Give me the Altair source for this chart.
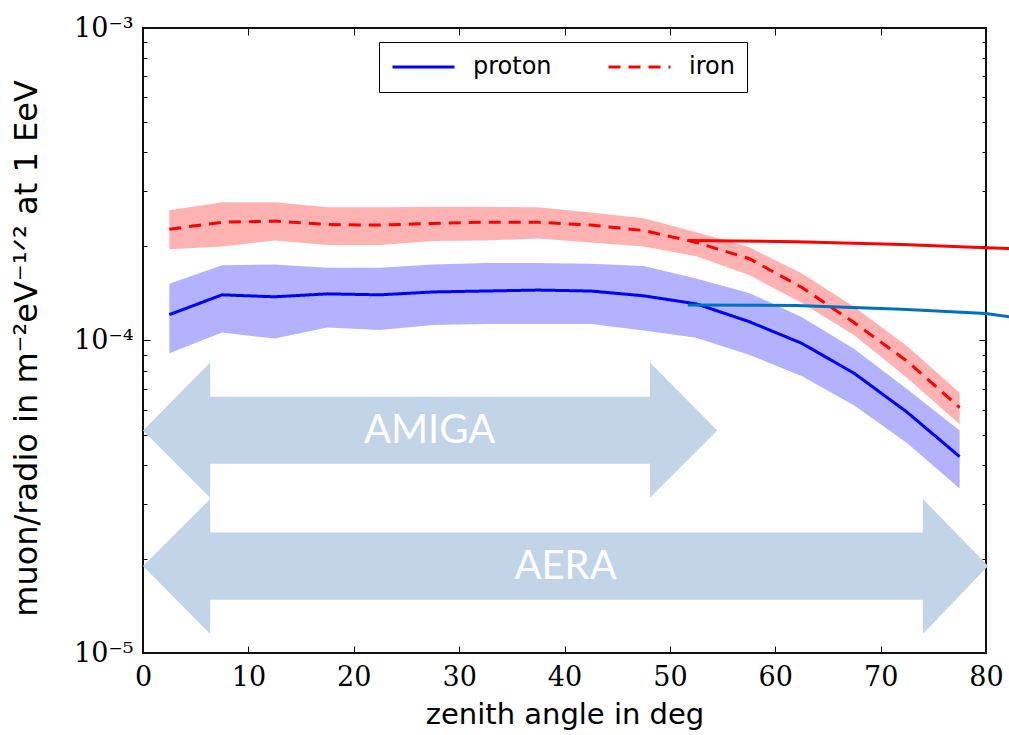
import altair as alt
import pandas as pd

# ---------------- data ----------------
zenith = [2.5, 7.5, 12.5, 17.5, 22.5, 27.5, 32.5, 37.5, 42.5, 47.5,
          52.5, 57.5, 62.5, 67.5, 72.5, 77.5]

proton_mid = [1.21e-4, 1.40e-4, 1.38e-4, 1.41e-4, 1.40e-4, 1.43e-4, 1.44e-4, 1.45e-4,
              1.44e-4, 1.39e-4, 1.31e-4, 1.15e-4, 9.8e-5, 7.85e-5, 5.9e-5, 4.25e-5]
proton_hi = [1.52e-4, 1.74e-4, 1.75e-4, 1.71e-4, 1.71e-4, 1.75e-4, 1.77e-4, 1.77e-4,
             1.76e-4, 1.73e-4, 1.58e-4, 1.42e-4, 1.19e-4, 9.4e-5, 7.0e-5, 5.15e-5]
proton_lo = [9.1e-5, 1.06e-4, 1.015e-4, 1.10e-4, 1.08e-4, 1.12e-4, 1.13e-4, 1.13e-4,
             1.13e-4, 1.076e-4, 1.02e-4, 9.0e-5, 7.7e-5, 6.2e-5, 4.7e-5, 3.36e-5]

iron_mid = [2.27e-4, 2.39e-4, 2.41e-4, 2.35e-4, 2.34e-4, 2.37e-4, 2.39e-4, 2.39e-4,
            2.34e-4, 2.25e-4, 2.06e-4, 1.83e-4, 1.48e-4, 1.14e-4, 8.6e-5, 6.1e-5]
iron_hi = [2.61e-4, 2.77e-4, 2.77e-4, 2.67e-4, 2.67e-4, 2.68e-4, 2.68e-4, 2.67e-4,
           2.57e-4, 2.46e-4, 2.22e-4, 1.99e-4, 1.64e-4, 1.28e-4, 9.6e-5, 6.8e-5]
iron_lo = [1.96e-4, 2.00e-4, 2.09e-4, 2.02e-4, 2.02e-4, 2.08e-4, 2.09e-4, 2.12e-4,
           2.06e-4, 2.00e-4, 1.86e-4, 1.62e-4, 1.32e-4, 1.04e-4, 7.6e-5, 5.4e-5]

# overlaid (almost straight) lines from the slide
over_x = [51.7, 62.0, 72.0, 80.0, 82.3]
over_red = [2.09e-4, 2.07e-4, 2.03e-4, 1.98e-4, 1.97e-4]
over_blue = [1.30e-4, 1.295e-4, 1.26e-4, 1.22e-4, 1.19e-4]

# double arrows (outline in data units: x, upper y, lower y), traced in path order
amiga_x = [0.0, 6.37, 6.38, 48.1, 48.11, 54.5]
amiga_top = [5.15e-5, 8.5e-5, 6.61e-5, 6.61e-5, 8.5e-5, 5.15e-5]
amiga_bot = [5.15e-5, 3.14e-5, 4.03e-5, 4.03e-5, 3.14e-5, 5.15e-5]
aera_x = [0.0, 6.37, 6.38, 74.0, 74.01, 80.2]
aera_top = [1.90e-5, 3.11e-5, 2.43e-5, 2.43e-5, 3.11e-5, 1.90e-5]
aera_bot = [1.90e-5, 1.15e-5, 1.48e-5, 1.48e-5, 1.15e-5, 1.90e-5]

arrow_names = ["AMIGA", "AERA"]
arrow_label_x = [27.2, 40.1]
arrow_label_y = [5.12e-5, 1.89e-5]

series_names = ["proton", "iron"]
x_ticks = [0, 10, 20, 30, 40, 50, 60, 70, 80]
y_major = [1e-5, 1e-4, 1e-3]
y_labels = ["10⁻⁵", "10⁻⁴", "10⁻³"]
y_minor = [2e-5, 3e-5, 4e-5, 5e-5, 6e-5, 7e-5, 8e-5, 9e-5,
           2e-4, 3e-4, 4e-4, 5e-4, 6e-4, 7e-4, 8e-4, 9e-4]
x_title = "zenith angle in deg"
y_title = "muon/radio in m⁻²eV⁻¹ᐟ² at 1 EeV"

# ---------------- tables ----------------
band_p = pd.DataFrame({"x": zenith, "lo": proton_lo, "hi": proton_hi})
band_i = pd.DataFrame({"x": zenith, "lo": iron_lo, "hi": iron_hi})
mid = pd.DataFrame({
    "x": zenith * 2,
    "v": proton_mid + iron_mid,
    "s": [series_names[0]] * len(zenith) + [series_names[1]] * len(zenith),
})
over_r = pd.DataFrame({"x": over_x, "v": over_red})
over_b = pd.DataFrame({"x": over_x, "v": over_blue})
arrow_a = pd.DataFrame({"x": amiga_x, "ya": amiga_top, "yb": amiga_bot})
arrow_b = pd.DataFrame({"x": aera_x, "ya": aera_top, "yb": aera_bot})
arrow_txt = pd.DataFrame({"x": arrow_label_x, "v": arrow_label_y, "t": arrow_names})

xs = alt.Scale(domain=[0, 80], nice=False, zero=False)
ys = alt.Scale(type="log", domain=[1e-5, 1e-3], nice=False)

label_expr = "[" + ",".join("'%s'" % s for s in y_labels) + "][round(log(datum.value)/LN10)+5]"

ax_x_labels = alt.Axis(orient="bottom", values=x_ticks, ticks=False, domain=False, grid=False,
                       labelFont="DejaVu Serif", labelFontSize=27, labelColor="black",
                       labelPadding=11, labelFlush=False, labelOverlap=False,
                       title=x_title, titleFont="DejaVu Sans", titleFontSize=29,
                       titleFontWeight="normal", titleColor="black", titlePadding=10)
ax_x_bot = alt.Axis(orient="bottom", values=x_ticks[1:-1], labels=False, domain=False, grid=False,
                    tickSize={"expr": "-7"}, tickColor="black", tickWidth=1, title=None)
ax_x_top = alt.Axis(orient="top", values=x_ticks[1:-1], labels=False, domain=False, grid=False,
                    tickSize={"expr": "-7"}, tickColor="black", tickWidth=1, title=None)
ax_y_labels = alt.Axis(orient="left", values=y_major, ticks=False, domain=False, grid=False,
                       labelExpr=label_expr, labelFont="DejaVu Serif", labelFontSize=27,
                       labelColor="black", labelPadding=10, labelFlush=False,
                       title=y_title, titleFont="DejaVu Sans", titleFontSize=32,
                       titleFontWeight="normal", titleColor="black", titlePadding=30,
                       titleY=320, titleLimit=1000)
ax_y_major_l = alt.Axis(orient="left", values=[1e-4], labels=False, domain=False, grid=False,
                        tickSize={"expr": "-7"}, tickColor="black", tickWidth=1, title=None)
ax_y_minor_l = alt.Axis(orient="left", values=y_minor, labels=False, domain=False, grid=False,
                        tickSize={"expr": "-4"}, tickColor="black", tickWidth=1, title=None)
ax_y_major_r = alt.Axis(orient="right", values=[1e-4], labels=False, domain=False, grid=False,
                        tickSize={"expr": "-7"}, tickColor="black", tickWidth=1, title=None)
ax_y_minor_r = alt.Axis(orient="right", values=y_minor, labels=False, domain=False, grid=False,
                        tickSize={"expr": "-4"}, tickColor="black", tickWidth=1, title=None)

l_band_p = alt.Chart(band_p).mark_area(color="#0000ff", opacity=0.3).encode(
    x=alt.X("x:Q", scale=xs, axis=ax_x_labels),
    y=alt.Y("lo:Q", scale=ys, axis=ax_y_labels, stack=None),
    y2="hi:Q",
)
l_band_i = alt.Chart(band_i).mark_area(color="#ff0000", opacity=0.3).encode(
    x=alt.X("x:Q", scale=xs, axis=ax_x_bot),
    y=alt.Y("lo:Q", scale=ys, axis=ax_y_major_l, stack=None),
    y2="hi:Q",
)
l_arrow_a = alt.Chart(arrow_a).mark_area(color="#c2d4e8").encode(
    x=alt.X("x:Q", scale=xs, axis=ax_x_top),
    y=alt.Y("ya:Q", scale=ys, axis=ax_y_minor_l, stack=None),
    y2="yb:Q",
)
l_arrow_b = alt.Chart(arrow_b).mark_area(color="#c2d4e8").encode(
    x=alt.X("x:Q", scale=xs, axis=None),
    y=alt.Y("ya:Q", scale=ys, axis=None, stack=None),
    y2="yb:Q",
)
l_arrow_txt = alt.Chart(arrow_txt).mark_text(font="Lato", fontSize=40, color="white",
                                             align="center", baseline="middle").encode(
    x=alt.X("x:Q", scale=xs, axis=None),
    y=alt.Y("v:Q", scale=ys, axis=ax_y_major_r),
    text="t:N",
)
leg = alt.Legend(orient="none", legendX=236, legendY=14, direction="horizontal", title=None,
                 symbolType="stroke", symbolSize=3844, symbolStrokeWidth=3, clipHeight=26,
                 labelFont="DejaVu Sans", labelFontSize=24, labelColor="black",
                 labelOffset=17, columnPadding=55, padding=12, strokeColor="black",
                 fillColor="white", cornerRadius=0, labelLimit=300)
l_mid = alt.Chart(mid).mark_line(strokeWidth=3).encode(
    x=alt.X("x:Q", scale=xs, axis=None),
    y=alt.Y("v:Q", scale=ys, axis=ax_y_minor_r),
    color=alt.Color("s:N", scale=alt.Scale(domain=series_names, range=["#0000ff", "#ff0000"]),
                    legend=leg),
    strokeDash=alt.StrokeDash("s:N", scale=alt.Scale(domain=series_names, range=[[1, 0], [12, 8]]),
                              legend=leg),
)
l_over_r = alt.Chart(over_r).mark_line(color="#ff0000", strokeWidth=3, clip=False).encode(
    x=alt.X("x:Q", scale=xs, axis=None),
    y=alt.Y("v:Q", scale=ys, axis=None),
)
l_over_b = alt.Chart(over_b).mark_line(color="#0070c0", strokeWidth=3, clip=False).encode(
    x=alt.X("x:Q", scale=xs, axis=None),
    y=alt.Y("v:Q", scale=ys, axis=None),
)

chart = alt.layer(
    l_band_p, l_band_i, l_arrow_a, l_arrow_b, l_mid, l_arrow_txt, l_over_r, l_over_b
).resolve_axis(
    x="independent", y="independent"
).properties(
    width=843, height=625,
    padding={"left": 143, "top": 28, "right": 23, "bottom": 82},
    autosize=alt.AutoSizeParams(type="none"),
    background="white",
).configure_view(
    stroke="#111111", strokeWidth=2
)

chart.save("out.html", embed_options={"renderer": "svg", "actions": False})
